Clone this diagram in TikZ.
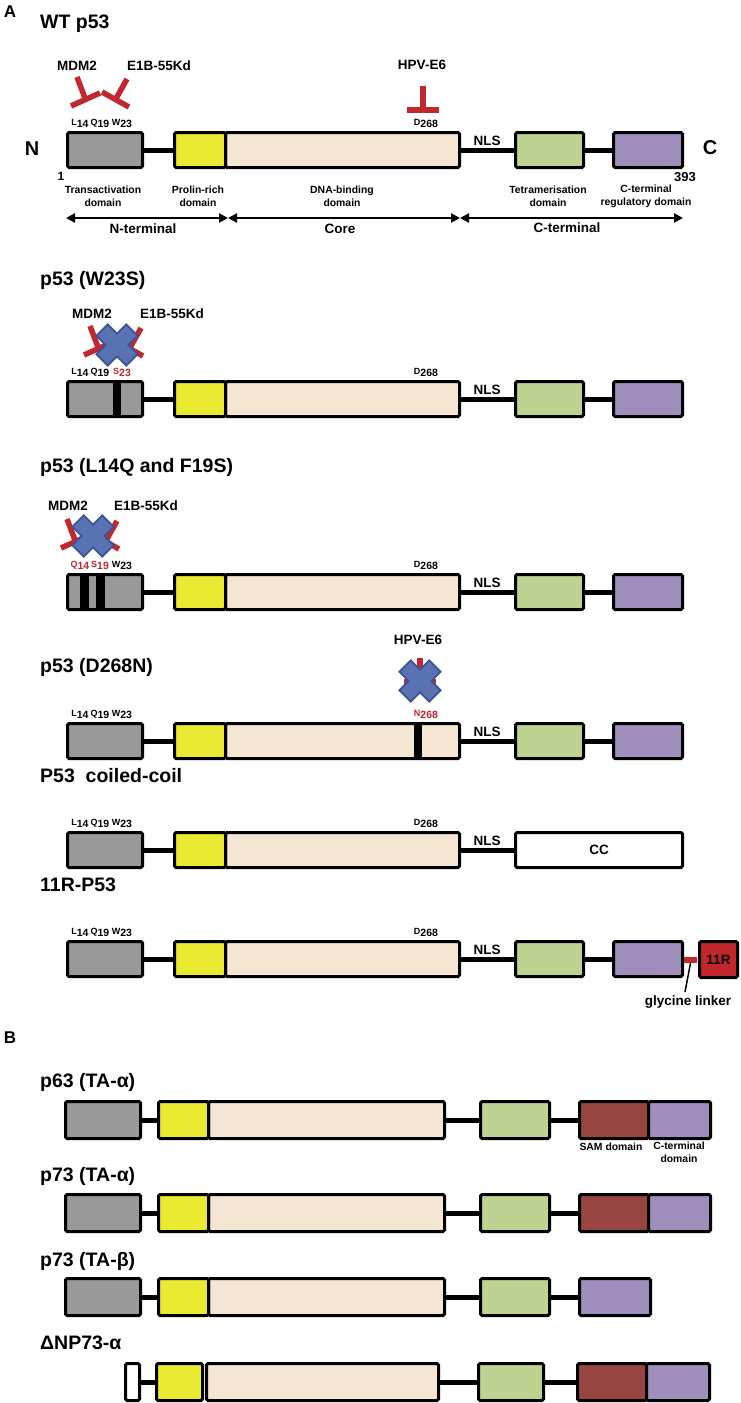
\documentclass[tikz,border=0pt]{standalone}
\usepackage{fontspec}
\setmainfont{Liberation Sans}
\usetikzlibrary{arrows.meta}
\definecolor{dgray}{RGB}{153,153,153}
\definecolor{yel}{RGB}{234,234,51}
\definecolor{beige}{RGB}{245,230,212}
\definecolor{grn}{RGB}{190,211,145}
\definecolor{purp}{RGB}{160,143,188}
\definecolor{sam}{RGB}{152,69,65}
\definecolor{inhred}{RGB}{193,39,45}
\definecolor{xfill}{RGB}{88,114,178}
\definecolor{xline}{RGB}{58,84,150}
\newcommand\mybox[6]{\node[dom,fill=#6,minimum width={#3-#2-3},minimum height={#5-3}] (#1) at ({#2+1.5},{#4+1.5}) {};}
\newcommand\resd[2]{{\fontsize{9}{9}\selectfont #1}\raisebox{-2.5pt}{\fontsize{10.5}{10.5}\selectfont #2}}
\newcommand\prowL[2]{%
 \mybox{#1g}{66}{144}{#2}{38}{dgray}
 \mybox{#1b}{224}{461}{#2}{38}{beige}
 \mybox{#1y}{173}{227}{#2}{38}{yel}
 \draw[link] (#1g.east) -- (#1y.west);
 \node[ab] (#1nls) at (487,{#2+14}) {NLS};
}
\newcommand\prowR[2]{%
 \mybox{#1gr}{514}{585}{#2}{38}{grn}
 \mybox{#1p}{612}{684}{#2}{38}{purp}
 \draw[link] (#1b.east) -- (#1gr.west);
 \draw[link] (#1gr.east) -- (#1p.west);
}
\newcommand\resrow[5]{%
 \node[resn] (#1ra) at (80,{#2-6}) {#3};
 \node[resn] (#1rb) at (100,{#2-6}) {#4};
 \node[resn] (#1rc) at (122,{#2-6}) {#5};
}
\newcommand\inhM[2]{\begin{scope}[shift={(#1,#2)}]
 \draw[inh] (77,77) -- (85.5,99.5); \draw[inh] (71,106) -- (100,93);\end{scope}}
\newcommand\inhE[2]{\begin{scope}[shift={(#1,#2)}]
 \draw[inh] (127,79) -- (115.5,99.5); \draw[inh] (102,92) -- (129,107);\end{scope}}
\newcommand\xcross[2]{\begin{scope}[shift={(#1,#2)}]
 \draw[xline,line width=4pt,rotate=45] (-20,-7) rectangle (20,7);
 \draw[xline,line width=4pt,rotate=-45] (-20,-7) rectangle (20,7);
 \fill[xfill,rotate=45] (-20,-7) rectangle (20,7);
 \fill[xfill,rotate=-45] (-20,-7) rectangle (20,7);
\end{scope}}
\newcommand\bcore[3]{% prefix, ytop, dx
 \mybox{#1b}{207+#3}{446+#3}{#2}{40}{beige}
 \mybox{#1y}{157+#3}{210+#3}{#2}{40}{yel}
 \mybox{#1gr}{479+#3}{551+#3}{#2}{40}{grn}
 \draw[link] (#1b.east) -- (#1gr.west);
}
\begin{document}
\begin{tikzpicture}[x=1pt,y=-1pt,
 dom/.style={draw=black,line width=3pt,rounded corners=1.5pt,inner sep=0pt,outer sep=0pt,anchor=north west},
 link/.style={line width=5pt},
 inh/.style={draw=inhred,line width=5.5pt},
 ttl/.style={font=\fontsize{19.5}{19.5}\selectfont\bfseries,anchor=base west,inner sep=0pt},
 sect/.style={font=\fontsize{17}{17}\selectfont\bfseries,inner sep=0pt},
 bigb/.style={font=\fontsize{20}{20}\selectfont\bfseries,inner sep=0pt},
 ab/.style={font=\fontsize{13.5}{13.5}\selectfont\bfseries,anchor=base,inner sep=0pt},
 cl/.style={font=\fontsize{13.5}{13.5}\selectfont\bfseries,inner sep=0pt},
 resn/.style={font=\bfseries,anchor=base,inner sep=0pt},
 dlab/.style={font=\fontsize{10.4}{13}\selectfont\bfseries,align=center,inner sep=0pt},
 arr/.style={line width=2.5pt,{Triangle[length=9pt,width=9pt]}-{Triangle[length=9pt,width=9pt]}},
]
\useasboundingbox[fill=white] (0,0) rectangle (741,1403);

% ================= A =================
\node[sect] (labA) at (10,12) {A};

% ---- WT p53
\node[ttl] (t1) at (40,28) {WT p53};
\node[ab] (mdm1) at (77,70) {MDM2};
\node[ab] (e1b1) at (159,70) {E1B-55Kd};
\node[ab] (hpv1) at (422,69) {HPV-E6};
\inhM{0}{0}\inhE{0}{0}
\draw[inh] (423,86) -- (423,110);
\draw[inh] (407,110) -- (439,110);
\resrow{w}{131}{\resd{L}{14}}{\resd{Q}{19}}{\resd{W}{23}}
\node[resn] (wrd) at (426,125) {\resd{D}{268}};
\prowL{w}{131}\prowR{w}{131}
\node[bigb] (nN) at (32,149) {N};
\node[bigb] (nC) at (710,148) {C};
\node[font=\fontsize{12}{12}\selectfont\bfseries,inner sep=0pt] (n1) at (61,176) {1};
\node[font=\fontsize{13}{13}\selectfont\bfseries,inner sep=0pt] (n393) at (685,177) {393};
\node[dlab] (d1) at (103,196) {Transactivation\\domain};
\node[dlab] (d2) at (198,196) {Prolin-rich\\domain};
\node[dlab] (d3) at (342,196) {DNA-binding\\domain};
\node[dlab] (d4) at (548,196) {Tetramerisation\\domain};
\node[dlab] (d5) at (646,196) {C-terminal\\regulatory domain};
\coordinate (a0) at (66,218);
\coordinate (a1) at (228,218);
\coordinate (a2) at (460,218);
\coordinate (a3) at (683,218);
\draw[arr] (a0) -- (a1);
\draw[arr] (a1) -- (a2);
\draw[arr] (a2) -- (a3);
\node[cl] (ant) at (143,229) {N-terminal};
\node[cl] (aco) at (340,229) {Core};
\node[cl] (act) at (567,228) {C-terminal};

% ---- W23S
\node[ttl] (t2) at (40,285) {p53 (W23S)};
\node[ab] (mdm2) at (92,318) {MDM2};
\node[ab] (e1b2) at (172,318) {E1B-55Kd};
\inhM{13}{249}\inhE{14}{249}
\xcross{117}{345}
\resrow{s}{380}{\resd{L}{14}}{\resd{Q}{19}}{\textcolor{inhred}{\resd{S}{23}}}
\node[resn] (srd) at (426,374) {\resd{D}{268}};
\prowL{s}{380}\prowR{s}{380}
\fill (113,381.5) rectangle (121,416.5);

% ---- L14Q and F19S
\node[ttl] (t3) at (40,472) {p53 (L14Q and F19S)};
\node[ab] (mdm3) at (68,510) {MDM2};
\node[ab] (e1b3) at (146,510) {E1B-55Kd};
\inhM{-10}{442}\inhE{-10}{442}
\xcross{93}{536}
\resrow{l}{573}{\textcolor{inhred}{\resd{Q}{14}}}{\textcolor{inhred}{\resd{S}{19}}}{\resd{W}{23}}
\node[resn] (lrd) at (426,567) {\resd{D}{268}};
\prowL{l}{573}\prowR{l}{573}
\fill (80,574.5) rectangle (89,609.5);
\fill (96,574.5) rectangle (105,609.5);

% ---- D268N
\node[ttl] (t4) at (40,672) {p53 (D268N)};
\node[ab] (hpv4) at (418,644) {HPV-E6};
\draw[inh] (420,658) -- (420,682);
\draw[inh] (404,682) -- (436,682);
\xcross{420}{681}
\resrow{d}{722}{\resd{L}{14}}{\resd{Q}{19}}{\resd{W}{23}}
\node[resn] (drd) at (426,716) {\textcolor{inhred}{\resd{N}{268}}};
\prowL{d}{722}\prowR{d}{722}
\fill (414,723.5) rectangle (422,758.5);

% ---- coiled-coil
\node[ttl] (t5) at (40,782) {P53 \ coiled-coil};
\resrow{c}{831}{\resd{L}{14}}{\resd{Q}{19}}{\resd{W}{23}}
\node[resn] (crd) at (426,825) {\resd{D}{268}};
\prowL{c}{831}
\mybox{ccb}{514}{684}{831}{38}{white}
\draw[link] (cb.east) -- (ccb.west);
\node[cl] (cct) at (ccb.center) {CC};

% ---- 11R-P53
\node[ttl] (t6) at (40,891) {11R-P53};
\resrow{r}{940}{\resd{L}{14}}{\resd{Q}{19}}{\resd{W}{23}}
\node[resn] (rrd) at (426,934) {\resd{D}{268}};
\prowL{r}{940}\prowR{r}{940}
\node[fill=inhred,minimum width=13,minimum height=6,inner sep=0pt,outer sep=0pt,anchor=north west] (glk) at (684,957) {};
\mybox{r11}{698}{739}{940}{39}{inhred}
\node[cl] (r11t) at (r11.center) {11R};
\node[cl] (glt) at (688,1002) {glycine linker};
\coordinate (glend) at (685,992);
\draw[line width=1.5pt] (glk.south) -- (glend);

% ================= B =================
\node[sect] (labB) at (10,1038) {B};

% ---- p63 TA-alpha
\node[ttl] (t7) at (40,1087) {p63 (TA-α)};
\mybox{pg}{64}{142}{1100}{40}{dgray}
\bcore{p}{1100}{0}
\mybox{ps}{578}{650}{1100}{40}{sam}
\mybox{pp}{647}{712}{1100}{40}{purp}
\draw[link] (pg.east) -- (py.west);
\draw[link] (pgr.east) -- (ps.west);
\node[dlab] (sl) at (611,1147) {SAM domain};
\node[dlab] (cl2) at (679,1152) {C-terminal\\domain};

% ---- p73 TA-alpha
\node[ttl] (t8) at (40,1181) {p73 (TA-α)};
\mybox{ag}{64}{142}{1193}{40}{dgray}
\bcore{a}{1193}{0}
\mybox{as}{578}{650}{1193}{40}{sam}
\mybox{ap}{647}{712}{1193}{40}{purp}
\draw[link] (ag.east) -- (ay.west);
\draw[link] (agr.east) -- (as.west);

% ---- p73 TA-beta
\node[ttl] (t9) at (40,1266) {p73 (TA-β)};
\mybox{bg}{64}{142}{1277}{40}{dgray}
\bcore{b}{1277}{0}
\mybox{bp}{578}{652}{1277}{40}{purp}
\draw[link] (bg.east) -- (by.west);
\draw[link] (bgr.east) -- (bp.west);

% ---- DeltaNP73-alpha
\node[ttl] (t10) at (40,1349) {ΔNP73-α};
\mybox{ng}{124}{141}{1362}{40}{white}
\bcore{n}{1362}{-2}
\mybox{ns}{576}{648}{1362}{40}{sam}
\mybox{np}{645}{711}{1362}{40}{purp}
\draw[link] (ng.east) -- (ny.west);
\draw[link] (ngr.east) -- (ns.west);
\end{tikzpicture}
\end{document}
